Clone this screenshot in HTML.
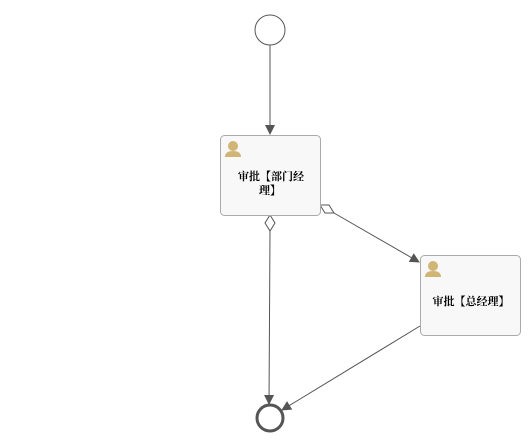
<!DOCTYPE html>
<html><head><style>body{margin:0;background:#fff}svg{display:block}</style></head><body>
<svg width="530" height="443" xmlns="http://www.w3.org/2000/svg" font-family="'Liberation Serif','Noto Serif CJK SC',serif">
<defs><marker id="a" markerWidth="10" markerHeight="10" refX="9" refY="5" orient="auto" markerUnits="userSpaceOnUse"><path d="M0,0 L10,5 L0,10 z" fill="#555"/></marker></defs>
<circle cx="270" cy="30" r="15" fill="#fff" stroke="#555" stroke-width="1"/>
<line x1="270" y1="45" x2="270" y2="134" stroke="#555" marker-end="url(#a)"/>
<line x1="270" y1="231" x2="269" y2="404" stroke="#555" marker-end="url(#a)"/>
<path d="M270,215 L275,223 L270,231 L265,223 z" fill="#fff" stroke="#555"/>
<line x1="334" y1="213" x2="419" y2="262" stroke="#555" marker-end="url(#a)"/>
<path d="M320,205 L329,205 L334,213 L325,213 z" fill="#fff" stroke="#555"/>
<line x1="420" y1="326" x2="282" y2="410" stroke="#555" marker-end="url(#a)"/>
<circle cx="270" cy="418" r="13" fill="#fff" stroke="#555" stroke-width="3"/>
<rect x="220.5" y="135.5" width="100" height="80" rx="4" fill="#f8f8f8" stroke="#aaa"/>
<rect x="420.5" y="255.5" width="100" height="80" rx="4" fill="#f8f8f8" stroke="#aaa"/>
<g fill="#d1b574"><circle cx="233" cy="146" r="5"/><path d="M225,157 Q225,151 233,151 Q241,151 241,157 z"/>
<circle cx="433" cy="266" r="5"/><path d="M425,277 Q425,271 433,271 Q441,271 441,277 z"/></g>
<text x="271" y="180" font-size="11" text-anchor="middle" font-weight="bold">审批【部门经</text>
<text x="270" y="194" font-size="11" text-anchor="middle" font-weight="bold">理】</text>
<text x="471" y="305" font-size="11" text-anchor="middle" font-weight="bold">审批【总经理】</text>
</svg>
</body></html>
